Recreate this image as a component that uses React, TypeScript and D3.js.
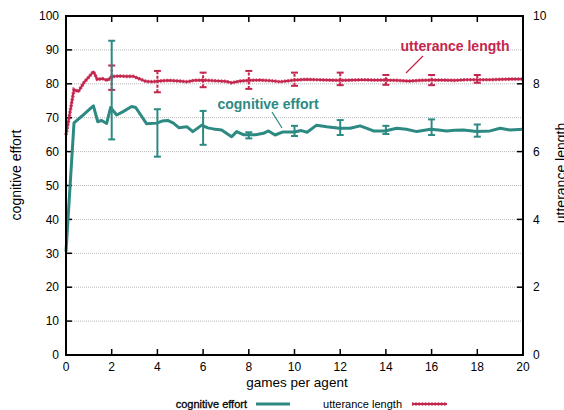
import React from "react";
import * as d3 from "d3";

const cogGames = [0, 0.35, 0.7, 1.0, 1.2, 1.39, 1.56, 1.78, 1.95, 2.22, 2.5, 2.87, 3.05, 3.3, 3.53, 3.97, 4.2, 4.45, 4.7, 4.95, 5.1, 5.3, 5.55, 5.94, 6.2, 6.45, 6.81, 7.25, 7.47, 7.76, 7.98, 8.3, 8.64, 8.86, 9.15, 9.5, 9.98, 10.3, 10.55, 10.97, 11.41, 11.96, 12.44, 12.87, 13.2, 13.45, 13.96, 14.47, 14.9, 15.35, 15.96, 16.3, 16.66, 17.0, 17.39, 17.97, 18.56, 19.0, 19.43, 20.0];
const cogValues = [30.5, 68.5, 70.5, 72.3, 73.5, 68.8, 69.2, 68.3, 73.0, 70.8, 71.8, 73.3, 73.0, 70.5, 68.2, 68.4, 69.0, 69.2, 68.4, 67.0, 67.2, 67.3, 65.9, 67.8, 67.0, 66.7, 66.4, 64.4, 65.9, 65.0, 65.0, 65.0, 65.4, 66.1, 64.9, 65.8, 65.8, 66.2, 65.7, 67.8, 67.3, 66.9, 66.9, 67.6, 66.8, 66.1, 66.1, 66.9, 66.6, 65.9, 66.6, 66.4, 66.1, 66.3, 66.4, 65.9, 66.1, 66.9, 66.4, 66.6];

const uttGames = [0, 0.35, 0.54, 0.8, 1.0, 1.2, 1.37, 1.6, 1.81, 2.0, 2.3, 2.6, 2.94, 3.2, 3.5, 3.8, 4.0, 4.5, 5.0, 5.3, 5.6, 6.0, 6.5, 7.0, 7.25, 7.6, 8.0, 8.5, 9.0, 9.37, 10.0, 10.5, 11.0, 11.5, 12.0, 12.5, 13.0, 13.5, 14.0, 14.5, 15.0, 15.5, 16.0, 16.5, 17.0, 17.5, 18.0, 18.5, 19.0, 19.5, 20.0];
const uttValues = [6.49, 7.83, 7.77, 8.05, 8.2, 8.36, 8.13, 8.15, 8.1, 8.21, 8.23, 8.22, 8.22, 8.15, 8.07, 8.06, 8.08, 8.1, 8.08, 8.06, 8.1, 8.11, 8.09, 8.07, 8.03, 8.08, 8.1, 8.11, 8.09, 8.06, 8.11, 8.13, 8.12, 8.11, 8.1, 8.11, 8.12, 8.11, 8.11, 8.1, 8.08, 8.1, 8.11, 8.11, 8.1, 8.12, 8.12, 8.12, 8.13, 8.14, 8.14];

const cogErrGames = [2, 4, 6, 8, 10, 12, 14, 16, 18];
const cogErrLow = [63.6, 58.5, 62.0, 63.9, 64.6, 64.9, 65.2, 64.9, 64.4];
const cogErrHigh = [92.7, 72.5, 72.0, 65.7, 67.6, 69.3, 67.6, 69.5, 68.0];

const uttErrGames = [2, 4, 6, 8, 10, 12, 14, 16, 18];
const uttErrLow = [7.82, 7.75, 7.9, 7.85, 7.94, 7.96, 7.97, 7.96, 8.03];
const uttErrHigh = [8.54, 8.38, 8.33, 8.38, 8.33, 8.33, 8.26, 8.26, 8.26];

const xTicks = [0, 2, 4, 6, 8, 10, 12, 14, 16, 18, 20];
const yTicks = [0, 10, 20, 30, 40, 50, 60, 70, 80, 90, 100];
const y2Ticks = [0, 2, 4, 6, 8, 10];

const TEAL = "#2d8a83";
const RED = "#c4264d";
const FONT = "Liberation Sans, Arial, Helvetica, sans-serif";

export default function App() {
  const W = 564, H = 410;
  const L = 66, R = 523, T = 16, B = 355;
  const x = d3.scaleLinear().domain([0, 20]).range([L, R]);
  const y = d3.scaleLinear().domain([0, 100]).range([B, T]);
  const y2 = d3.scaleLinear().domain([0, 10]).range([B, T]);

  const cogLine = d3.line<number>().x((_, i) => x(cogGames[i])).y((d) => y(d));
  const uttLine = d3.line<number>().x((_, i) => x(uttGames[i])).y((d) => y2(d));

  const tick = 6;
  return (
    <svg width={W} height={H} style={{ position: "absolute", left: 0, top: 0, background: "#fff" }} fontFamily={FONT}>
      {yTicks.filter((t) => t > 0 && t < 100).map((t) => (
        <line key={"g" + t} x1={L} x2={R} y1={y(t)} y2={y(t)} stroke="#b8b8b8" strokeWidth={1} strokeDasharray="1 1" />
      ))}
      {yTicks.map((t) => (
        <line key={"yt" + t} x1={L} x2={L + tick} y1={y(t)} y2={y(t)} stroke="#000" strokeWidth={1.5} />
      ))}
      {y2Ticks.map((t) => (
        <line key={"y2t" + t} x1={R} x2={R - tick} y1={y2(t)} y2={y2(t)} stroke="#000" strokeWidth={1.5} />
      ))}
      {xTicks.map((t) => (
        <g key={"xt" + t}>
          <line x1={x(t)} x2={x(t)} y1={B} y2={B - tick} stroke="#000" strokeWidth={1.5} />
          <line x1={x(t)} x2={x(t)} y1={T} y2={T + tick} stroke="#000" strokeWidth={1.5} />
        </g>
      ))}
      <path d={uttLine(uttValues) || ""} fill="none" stroke={RED} strokeWidth={2.2} strokeLinejoin="round" />
      <path d={uttLine(uttValues) || ""} fill="none" stroke={RED} strokeWidth={3.6} strokeDasharray="1.6 1.6" opacity={0.8} />
      {uttErrGames.map((g, i) => (
        <g key={"ue" + g} stroke={RED}>
          <line x1={x(g)} x2={x(g)} y1={y2(uttErrLow[i])} y2={y2(uttErrHigh[i])} strokeWidth={2} strokeDasharray="3 1.5" />
          <line x1={x(g) - 3.5} x2={x(g) + 3.5} y1={y2(uttErrLow[i])} y2={y2(uttErrLow[i])} strokeWidth={2} />
          <line x1={x(g) - 3.5} x2={x(g) + 3.5} y1={y2(uttErrHigh[i])} y2={y2(uttErrHigh[i])} strokeWidth={2} />
        </g>
      ))}
      <path d={cogLine(cogValues) || ""} fill="none" stroke={TEAL} strokeWidth={3} strokeLinejoin="round" />
      {cogErrGames.map((g, i) => (
        <g key={"ce" + g} stroke={TEAL} strokeWidth={2}>
          <line x1={x(g)} x2={x(g)} y1={y(cogErrLow[i])} y2={y(cogErrHigh[i])} />
          <line x1={x(g) - 3.5} x2={x(g) + 3.5} y1={y(cogErrLow[i])} y2={y(cogErrLow[i])} />
          <line x1={x(g) - 3.5} x2={x(g) + 3.5} y1={y(cogErrHigh[i])} y2={y(cogErrHigh[i])} />
        </g>
      ))}
      <rect x={L} y={T} width={R - L} height={B - T} fill="none" stroke="#000" strokeWidth={2} />
      {yTicks.map((t) => (
        <text key={"yl" + t} x={59} y={y(t)} dy="0.35em" textAnchor="end" fontSize={12} fill="#000">{t}</text>
      ))}
      {y2Ticks.map((t) => (
        <text key={"y2l" + t} x={533} y={y2(t)} dy="0.35em" textAnchor="start" fontSize={12} fill="#000">{t}</text>
      ))}
      {xTicks.map((t) => (
        <text key={"xl" + t} x={x(t)} y={371} textAnchor="middle" fontSize={12} fill="#000">{t}</text>
      ))}
      <text x={297} y={387} textAnchor="middle" fontSize={13.5} fill="#000">games per agent</text>
      <text transform="translate(21,175) rotate(-90)" textAnchor="middle" fontSize={14} fill="#000">cognitive effort</text>
      <text transform="translate(566,173) rotate(-90)" textAnchor="middle" fontSize={14} fill="#000">utterance length</text>
      <text x={455} y={50.5} textAnchor="middle" fontSize={14} fontWeight="bold" fill={RED}>utterance length</text>
      <line x1={423} y1={56} x2={406} y2={73} stroke={RED} strokeWidth={1.2} />
      <text x={268} y={108.5} textAnchor="middle" fontSize={14} fontWeight="bold" fill={TEAL}>cognitive effort</text>
      <line x1={272} y1={112} x2={282} y2={128} stroke={TEAL} strokeWidth={1.2} />
      <text x={247} y={408} textAnchor="end" fontSize={11} fill="#000" stroke="#000" strokeWidth={0.3}>cognitive effort</text>
      <line x1={256} x2={290} y1={404} y2={404} stroke={TEAL} strokeWidth={3} />
      <text x={402} y={408} textAnchor="end" fontSize={11} fill="#000">utterance length</text>
      <line x1={412} x2={447} y1={404} y2={404} stroke={RED} strokeWidth={2} />
      <line x1={412} x2={447} y1={404} y2={404} stroke={RED} strokeWidth={3.4} strokeDasharray="1.6 1.6" opacity={0.8} />
    </svg>
  );
}
